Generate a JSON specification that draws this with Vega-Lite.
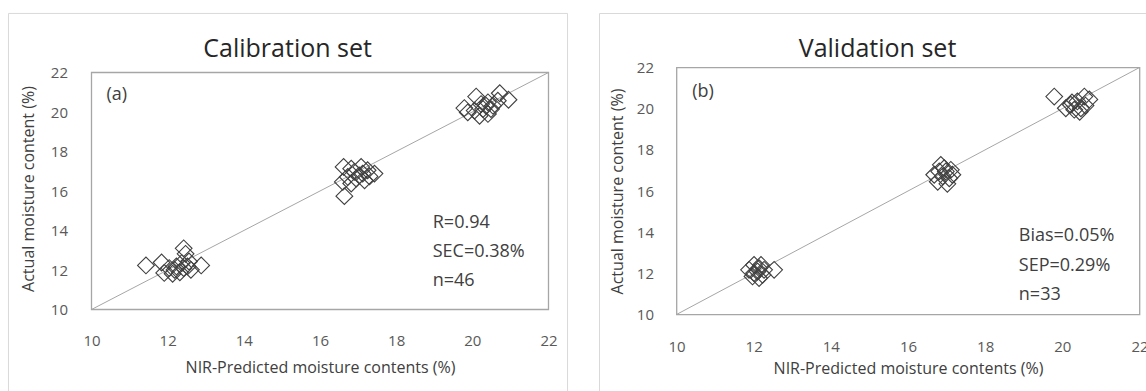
{
  "$schema": "https://vega.github.io/schema/vega-lite/v6.json",
  "background": "white",
  "padding": {"left": 7.5, "top": 11.5, "right": 0, "bottom": 0},
  "spacing": 29,
  "config": {
    "font": "Open Sans",
    "view": {"stroke": "#a6a6a6", "strokeWidth": 1.3},
    "axis": {
      "grid": false, "domain": false, "ticks": false,
      "labelFont": "Open Sans", "labelFontSize": 15, "labelColor": "#595959",
      "titleFont": "Open Sans", "titleFontSize": 16, "titleFontWeight": "normal", "titleColor": "#404040",
      "labelFlush": false, "labelOverlap": false
    }
  },
  "datasets": {
    "one": [{}],
    "calibration": [
      {"predicted": 11.43, "actual": 12.23}, {"predicted": 11.84, "actual": 12.38}, {"predicted": 11.91, "actual": 11.85},
      {"predicted": 12.04, "actual": 12.10}, {"predicted": 12.42, "actual": 13.10}, {"predicted": 12.47, "actual": 12.82},
      {"predicted": 12.88, "actual": 12.23}, {"predicted": 12.61, "actual": 12.01}, {"predicted": 12.18, "actual": 12.01},
      {"predicted": 12.32, "actual": 11.88}, {"predicted": 12.52, "actual": 12.18}, {"predicted": 12.37, "actual": 12.35},
      {"predicted": 12.23, "actual": 12.18}, {"predicted": 12.13, "actual": 11.81}, {"predicted": 12.42, "actual": 12.10},
      {"predicted": 12.56, "actual": 12.43},
      {"predicted": 16.64, "actual": 15.74}, {"predicted": 16.62, "actual": 17.22}, {"predicted": 16.60, "actual": 16.46},
      {"predicted": 16.82, "actual": 17.13}, {"predicted": 16.90, "actual": 16.97}, {"predicted": 17.08, "actual": 17.22},
      {"predicted": 17.25, "actual": 17.05}, {"predicted": 17.43, "actual": 16.88}, {"predicted": 17.30, "actual": 16.74},
      {"predicted": 17.12, "actual": 16.88}, {"predicted": 16.95, "actual": 16.63}, {"predicted": 16.73, "actual": 16.71},
      {"predicted": 17.17, "actual": 16.54}, {"predicted": 17.03, "actual": 16.79}, {"predicted": 16.82, "actual": 16.38},
      {"predicted": 19.79, "actual": 20.20}, {"predicted": 20.10, "actual": 20.78}, {"predicted": 20.72, "actual": 20.95},
      {"predicted": 20.95, "actual": 20.62}, {"predicted": 20.67, "actual": 20.57}, {"predicted": 20.41, "actual": 20.49},
      {"predicted": 20.23, "actual": 20.40}, {"predicted": 20.28, "actual": 20.15}, {"predicted": 20.06, "actual": 20.07},
      {"predicted": 19.88, "actual": 19.98}, {"predicted": 20.41, "actual": 19.90}, {"predicted": 20.49, "actual": 20.15},
      {"predicted": 20.19, "actual": 19.81}, {"predicted": 20.36, "actual": 20.32}, {"predicted": 20.54, "actual": 20.32}
    ],
    "validation": [
      {"predicted": 12.01, "actual": 12.41}, {"predicted": 11.88, "actual": 12.17}, {"predicted": 12.10, "actual": 12.09},
      {"predicted": 12.27, "actual": 12.17}, {"predicted": 12.53, "actual": 12.17}, {"predicted": 11.97, "actual": 11.85},
      {"predicted": 12.14, "actual": 11.77}, {"predicted": 12.19, "actual": 12.41}, {"predicted": 12.23, "actual": 11.93},
      {"predicted": 12.01, "actual": 12.01}, {"predicted": 12.14, "actual": 12.25},
      {"predicted": 16.85, "actual": 17.27}, {"predicted": 16.98, "actual": 16.95}, {"predicted": 16.68, "actual": 16.79},
      {"predicted": 17.11, "actual": 17.03}, {"predicted": 17.02, "actual": 16.35}, {"predicted": 16.77, "actual": 16.45},
      {"predicted": 16.90, "actual": 16.71}, {"predicted": 17.15, "actual": 16.79}, {"predicted": 16.94, "actual": 17.11},
      {"predicted": 16.81, "actual": 16.95}, {"predicted": 17.07, "actual": 16.62},
      {"predicted": 19.79, "actual": 20.59}, {"predicted": 20.22, "actual": 20.19}, {"predicted": 20.39, "actual": 20.35},
      {"predicted": 20.57, "actual": 20.59}, {"predicted": 20.09, "actual": 20.02}, {"predicted": 20.31, "actual": 19.95},
      {"predicted": 20.48, "actual": 20.02}, {"predicted": 20.70, "actual": 20.45}, {"predicted": 20.60, "actual": 20.15},
      {"predicted": 20.25, "actual": 20.30}, {"predicted": 20.45, "actual": 19.85}
    ]
  },
  "hconcat": [
    {
      "width": 457, "height": 242,
      "view": {"stroke": null},
      "layer": [
        {
          "data": {"name": "one"},
          "mark": {"type": "rule", "stroke": "#a6a6a6", "strokeWidth": 1},
          "encoding": {
            "x": {"datum": 10, "type": "quantitative",
                  "scale": {"domain": [10, 22], "nice": false, "zero": false},
                  "axis": {"values": [10, 12, 14, 16, 18, 20, 22], "title": "NIR-Predicted moisture contents (%)", "labelPadding": 24, "titlePadding": 11, "labelOverlap": false}},
            "x2": {"datum": 22},
            "y": {"datum": 10, "type": "quantitative",
                  "scale": {"domain": [10, 22.2532], "nice": false, "zero": false},
                  "axis": {"values": [10, 12, 14, 16, 18, 20, 22], "title": "Actual moisture content (%)", "labelPadding": 24, "titlePadding": 14, "labelOverlap": false}},
            "y2": {"datum": 22}
          }
        },
        {
          "data": {"name": "one"},
          "mark": {"type": "rect", "fillOpacity": 0, "stroke": "#a6a6a6", "strokeWidth": 1.3},
          "encoding": {
            "x": {"datum": 10, "type": "quantitative"},
            "x2": {"datum": 22},
            "y": {"datum": 22, "type": "quantitative"},
            "y2": {"datum": 10}
          }
        },
        {
          "data": {"name": "one"},
          "mark": {"type": "rect", "fillOpacity": 0, "stroke": "#d9d9d9", "strokeWidth": 1, "clip": false},
          "encoding": {
            "x": {"datum": 7.82, "type": "quantitative"},
            "x2": {"datum": 22.5},
            "y": {"datum": 24.99, "type": "quantitative"},
            "y2": {"datum": 5.34}
          }
        },
        {
          "data": {"name": "calibration"},
          "mark": {"type": "point", "shape": "diamond", "filled": false, "size": 280, "stroke": "#404040", "strokeWidth": 1.1, "opacity": 1},
          "encoding": {
            "x": {"field": "predicted", "type": "quantitative"},
            "y": {"field": "actual", "type": "quantitative"}
          }
        },
        {
          "data": {"name": "one"},
          "mark": {"type": "text", "align": "center", "baseline": "middle", "fontSize": 25, "color": "#262626", "clip": false},
          "encoding": {
            "x": {"datum": 15.15, "type": "quantitative"},
            "y": {"datum": 23.215, "type": "quantitative"},
            "text": {"value": "Calibration set"}
          }
        },
        {
          "data": {"name": "one"},
          "mark": {"type": "text", "align": "left", "baseline": "middle", "fontSize": 18, "color": "#404040"},
          "encoding": {
            "x": {"datum": 10.394, "type": "quantitative"},
            "y": {"datum": 20.886, "type": "quantitative"},
            "text": {"value": "(a)"}
          }
        },
        {
          "data": {"name": "one"},
          "mark": {"type": "text", "align": "left", "baseline": "alphabetic", "fontSize": 18, "lineHeight": 29.2, "color": "#404040"},
          "encoding": {
            "x": {"datum": 18.96, "type": "quantitative"},
            "y": {"datum": 14.13, "type": "quantitative"},
            "text": {"value": ["R=0.94", "SEC=0.38%", "n=46"]}
          }
        }
      ]
    },
    {
      "width": 463, "height": 247,
      "layer": [
        {
          "data": {"name": "one"},
          "mark": {"type": "rule", "stroke": "#a6a6a6", "strokeWidth": 1},
          "encoding": {
            "x": {"datum": 10, "type": "quantitative",
                  "scale": {"domain": [10, 22], "nice": false, "zero": false},
                  "axis": {"values": [10, 12, 14, 16, 18, 20, 22], "title": "NIR-Predicted moisture contents (%)", "labelPadding": 25, "titlePadding": 6, "labelOverlap": false}},
            "x2": {"datum": 22},
            "y": {"datum": 10, "type": "quantitative",
                  "scale": {"domain": [10, 22], "nice": false, "zero": false},
                  "axis": {"values": [10, 12, 14, 16, 18, 20, 22], "title": "Actual moisture content (%)", "labelPadding": 23, "titlePadding": 11, "labelOverlap": false}},
            "y2": {"datum": 22}
          }
        },
        {
          "data": {"name": "one"},
          "mark": {"type": "rect", "fillOpacity": 0, "stroke": "#d9d9d9", "strokeWidth": 1, "clip": false},
          "encoding": {
            "x": {"datum": 8.004, "type": "quantitative"},
            "x2": {"datum": 22.467},
            "y": {"datum": 24.624, "type": "quantitative"},
            "y2": {"datum": 5.773}
          }
        },
        {
          "data": {"name": "validation"},
          "mark": {"type": "point", "shape": "diamond", "filled": false, "size": 280, "stroke": "#404040", "strokeWidth": 1.1, "opacity": 1},
          "encoding": {
            "x": {"field": "predicted", "type": "quantitative"},
            "y": {"field": "actual", "type": "quantitative"}
          }
        },
        {
          "data": {"name": "one"},
          "mark": {"type": "text", "align": "center", "baseline": "middle", "fontSize": 25, "color": "#262626", "clip": false},
          "encoding": {
            "x": {"datum": 15.21, "type": "quantitative"},
            "y": {"datum": 22.923, "type": "quantitative"},
            "text": {"value": "Validation set"}
          }
        },
        {
          "data": {"name": "one"},
          "mark": {"type": "text", "align": "left", "baseline": "middle", "fontSize": 18, "color": "#404040"},
          "encoding": {
            "x": {"datum": 10.407, "type": "quantitative"},
            "y": {"datum": 20.786, "type": "quantitative"},
            "text": {"value": "(b)"}
          }
        },
        {
          "data": {"name": "one"},
          "mark": {"type": "text", "align": "left", "baseline": "alphabetic", "fontSize": 18, "lineHeight": 29.8, "color": "#404040"},
          "encoding": {
            "x": {"datum": 18.872, "type": "quantitative"},
            "y": {"datum": 13.576, "type": "quantitative"},
            "text": {"value": ["Bias=0.05%", "SEP=0.29%", "n=33"]}
          }
        }
      ]
    }
  ]
}
